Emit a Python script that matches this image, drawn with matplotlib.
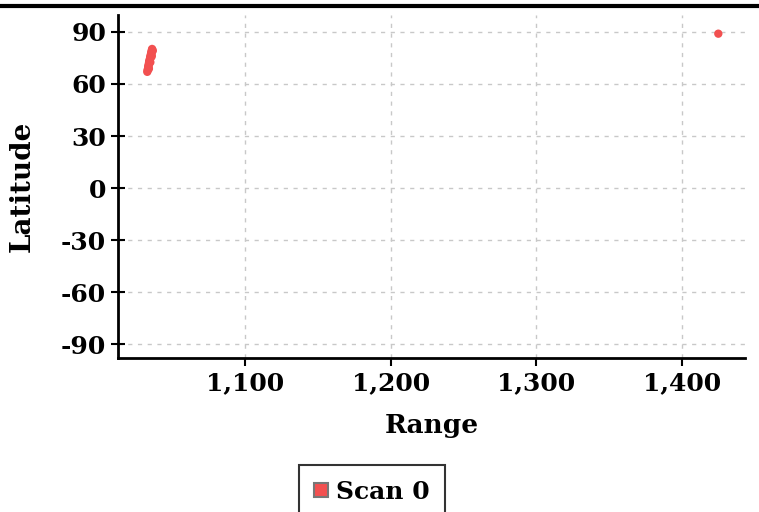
import matplotlib.pyplot as plt
from matplotlib.lines import Line2D
from matplotlib.ticker import FuncFormatter

# scan 0 points (range, latitude)
range_vals = [1032.8, 1033.0, 1033.2, 1033.4, 1033.5, 1033.7, 1033.9, 1034.0,
              1034.2, 1034.4, 1034.6, 1034.8, 1035.0, 1035.2, 1035.4, 1035.6,
              1035.8, 1036.0, 1036.1, 1033.6, 1034.3, 1035.1, 1035.7, 1036.6,
              1035.9, 1034.9, 1033.9, 1425.0]
lat_vals = [67.0, 67.8, 68.6, 69.4, 70.1, 70.8, 71.6, 72.3,
            73.0, 73.8, 74.5, 75.3, 76.0, 76.8, 77.5, 78.2,
            79.0, 79.6, 80.2, 69.0, 72.8, 75.0, 77.0, 79.2,
            76.0, 72.5, 68.8, 89.0]
x_ticks = [1100, 1200, 1300, 1400]
y_ticks = [-90, -60, -30, 0, 30, 60, 90]

plt.rcParams['font.family'] = ['DejaVu Serif']
plt.rcParams['font.weight'] = 'bold'

fig = plt.figure(figsize=(7.59, 5.12), dpi=100)
ax = fig.add_axes([0.1555, 0.3008, 0.826, 0.67])

ax.scatter(range_vals, lat_vals, s=36, color='#f25050', edgecolors='none',
           marker='o', zorder=3, label='Scan 0')

ax.set_xlim(1012.7, 1443.3)
ax.set_ylim(-98, 99.8)
ax.set_xticks(x_ticks)
ax.set_yticks(y_ticks)
ax.xaxis.set_major_formatter(FuncFormatter(lambda v, p: f'{int(v):,}'))
ax.yaxis.set_major_formatter(FuncFormatter(lambda v, p: str(int(v))))
ax.tick_params(labelsize=18, width=1.5, length=6, direction='out')
ax.tick_params(axis='y', direction='inout', length=10)
ax.grid(True, color='#c8c8c8', linestyle=(0, (3, 4)), linewidth=1)
for s in ['top', 'right']:
    ax.spines[s].set_visible(False)
for s in ['left', 'bottom']:
    ax.spines[s].set_linewidth(2)

ax.set_xlabel('Range', fontsize=19, fontweight='bold', labelpad=13)
ax.set_ylabel('Latitude', fontsize=20, fontweight='bold', labelpad=18)

handle = Line2D([], [], marker='s', linestyle='none', markersize=10,
                markerfacecolor='#f25050', markeredgecolor='#777777',
                markeredgewidth=1.5)
leg = fig.legend([handle], ['Scan 0'], loc='center', bbox_to_anchor=(0.49, 0.04),
                 fontsize=18, frameon=True, fancybox=False, handlelength=0.6,
                 handletextpad=0.3, borderpad=0.6)
leg.get_frame().set_edgecolor('black')
leg.get_frame().set_linewidth(1.5)

fig.add_artist(Line2D([0, 1], [0.988, 0.988], color='black', linewidth=3,
                      transform=fig.transFigure))

fig.savefig('out.png', dpi=100)
